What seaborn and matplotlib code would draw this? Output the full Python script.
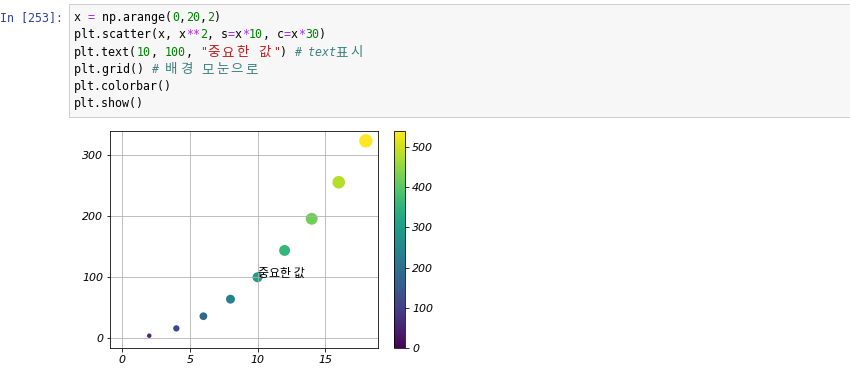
import numpy as np
import matplotlib
matplotlib.use("Agg")
import matplotlib.pyplot as plt
import matplotlib.patches as mpatches
from matplotlib.colors import Normalize
from matplotlib.cm import ScalarMappable
import seaborn as sns
import pandas as pd

# data (same as the notebook cell)
x_vals = [0, 2, 4, 6, 8, 10, 12, 14, 16, 18]
y_vals = [0, 4, 16, 36, 64, 100, 144, 196, 256, 324]
size_vals = [0, 20, 40, 60, 80, 100, 120, 140, 160, 180]
color_vals = [0, 60, 120, 180, 240, 300, 360, 420, 480, 540]
cbar_ticks = [0, 100, 200, 300, 400, 500]
x_ticks = [0, 5, 10, 15]
y_ticks = [0, 100, 200, 300]
label_text = "중요한 값"

code_lines = [
    [("x ", "n"), ("=", "o"), (" np.arange(", "n"), ("0", "d"), (",", "n"), ("20", "d"), (",", "n"), ("2", "d"), (")", "n")],
    [("plt.scatter(x, x", "n"), ("**", "o"), ("2", "d"), (", s", "n"), ("=", "o"), ("x", "n"), ("*", "o"), ("10", "d"),
     (", c", "n"), ("=", "o"), ("x", "n"), ("*", "o"), ("30", "d"), (")", "n")],
    [("plt.text(", "n"), ("10", "d"), (", ", "n"), ("100", "d"), (", ", "n"), ('"중요한 값"', "s"), (") ", "n"), ("# text표시", "c")],
    [("plt.grid() ", "n"), ("# 배경 모눈으로", "c")],
    [("plt.colorbar()", "n")],
    [("plt.show()", "n")],
]
token_colors = {"n": "#000000", "o": "#AA22FF", "d": "#008000", "s": "#BA2121", "c": "#408080"}

W, H = 850, 378
DPI = 72
fig = plt.figure(figsize=(W / DPI, H / DPI), dpi=DPI)
fig.patch.set_facecolor("white")


def fx(px):
    return px / W


def fy(py):
    return 1 - py / H


mono = ["DejaVu Sans Mono", "Noto Sans CJK KR"]
kfont = ["Noto Sans CJK KR", "DejaVu Sans"]
cw = 7.0  # px per monospace column at 72 dpi
code_size = cw / 0.602
kcols = 2.1  # columns taken by one Hangul glyph

# code cell background
fig.patches.append(mpatches.Rectangle((fx(69), fy(117)), fx(W + 5) - fx(69), fy(3.5) - fy(117),
                                      transform=fig.transFigure, facecolor="#f7f7f7",
                                      edgecolor="#cfcfcf", linewidth=1.0))
fig.text(fx(0), fy(21), "In [253]:", family=mono, fontsize=code_size, color="#303F9F", va="baseline")

for i, line in enumerate(code_lines):
    base = 21 + i * 17.3
    col = 0.0
    for txt, kind in line:
        style = "italic" if kind == "c" else "normal"
        run = ""
        run_start = col
        for ch in txt + "\0":
            if ch == "\0" or ord(ch) > 0x1000:
                if run:
                    fig.text(fx(74 + run_start * cw), fy(base), run, family=mono, fontsize=code_size,
                             color=token_colors[kind], va="baseline", style=style)
                    col = run_start + len(run)
                    run = ""
                if ch == "\0":
                    break
                fig.text(fx(74 + col * cw), fy(base + 0.5), ch, family=kfont, fontsize=13.5,
                         color=token_colors[kind], va="baseline")
                col += kcols
                run_start = col
            else:
                run += ch

# scatter plot
df = pd.DataFrame({"x": x_vals, "y": y_vals, "s": size_vals, "c": color_vals})
ax = fig.add_axes([fx(110), fy(348), fx(378) - fx(110), fy(131) - fy(348)])
sns.scatterplot(data=df, x="x", y="y", hue="c", palette="viridis", hue_norm=(0, 540),
                size="s", sizes=(0, 180), size_norm=(0, 180), linewidth=0,
                legend=False, ax=ax)
ax.set_xlabel("")
ax.set_ylabel("")
ax.set_xticks(x_ticks)
ax.set_yticks(y_ticks)
ax.grid(True, color="#b0b0b0", linewidth=0.8)
for sp in ax.spines.values():
    sp.set_color("black")
    sp.set_linewidth(0.8)
tick_font = dict(family="DejaVu Sans", style="italic", size=11)
for lab in ax.get_xticklabels() + ax.get_yticklabels():
    lab.set_fontproperties(tick_font)
ax.text(10, 100, label_text, family=kfont, fontsize=12, color="black")

# colorbar
cax = fig.add_axes([fx(394), fy(348), fx(405) - fx(394), fy(131) - fy(348)])
sm = ScalarMappable(norm=Normalize(0, 540), cmap="viridis")
cb = fig.colorbar(sm, cax=cax, ticks=cbar_ticks)
cb.outline.set_linewidth(0.8)
for lab in cax.get_yticklabels():
    lab.set_fontproperties(tick_font)

fig.savefig("out.png", dpi=DPI)
